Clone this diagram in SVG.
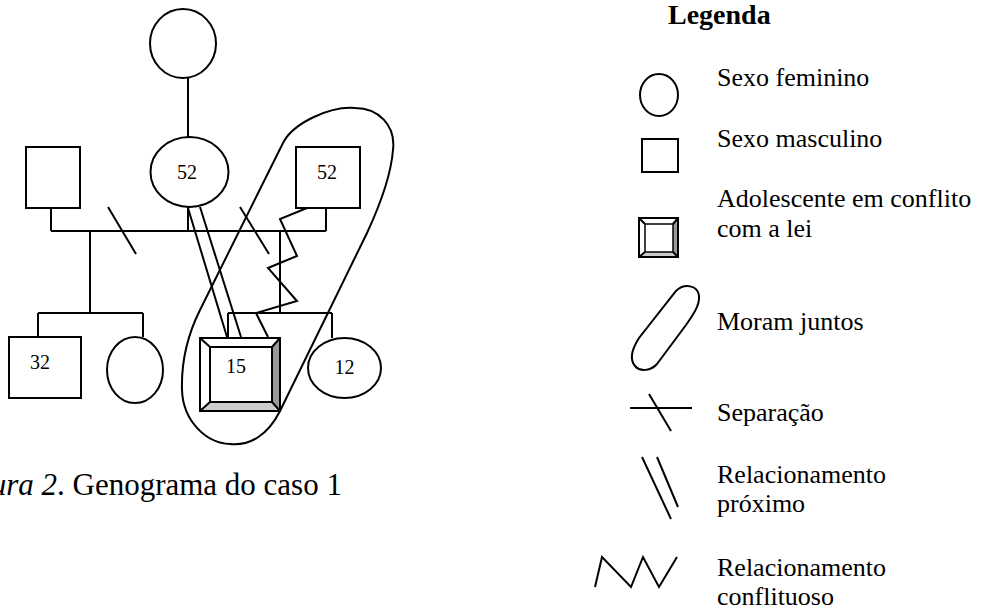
<svg xmlns="http://www.w3.org/2000/svg" width="981" height="610" viewBox="0 0 981 610">
<style>
.s{fill:none;stroke:#000;stroke-width:2}
.n{fill:#fff;stroke:#000;stroke-width:2}
.t{font-family:"Liberation Serif","Times New Roman",serif;fill:#000}
.num{font-size:20px;text-anchor:middle}
.lg{font-size:26px}
</style>
<rect width="981" height="610" fill="#fff"/>
<g id="connectors">
<line class="s" x1="188" y1="78" x2="188" y2="137"/>
<line class="s" x1="51" y1="208" x2="51" y2="231"/>
<line class="s" x1="326" y1="208" x2="326" y2="231"/>
<line class="s" x1="188" y1="207" x2="188" y2="231"/>
<line class="s" x1="51" y1="231" x2="326" y2="231"/>
<line class="s" x1="108" y1="207" x2="136" y2="254"/>
<line class="s" x1="240" y1="207" x2="269" y2="254"/>
<line class="s" x1="90" y1="231" x2="90" y2="313"/>
<line class="s" x1="38" y1="313" x2="143" y2="313"/>
<line class="s" x1="38" y1="313" x2="38" y2="337"/>
<line class="s" x1="143" y1="313" x2="143" y2="337"/>
<line class="s" x1="280" y1="231" x2="280" y2="313"/>
<line class="s" x1="228" y1="313" x2="332" y2="313"/>
<line class="s" x1="228" y1="313" x2="228" y2="338"/>
<line class="s" x1="332" y1="313" x2="332" y2="338"/>
<line class="s" x1="188" y1="208" x2="227" y2="337"/>
<line class="s" x1="200" y1="207" x2="241" y2="337"/>
<polyline class="s" points="307,208 280,219 297,256 268,268 297,301 256,313 268,337"/>
</g>
<g id="n-grandmother"><ellipse class="n" cx="183" cy="43.5" rx="33" ry="34.5"/></g>
<g id="n-mother"><ellipse class="n" cx="189.5" cy="172" rx="39" ry="35"/><text class="t num" x="187" y="179">52</text></g>
<g id="n-father1"><rect class="n" x="26" y="147" width="54" height="61"/></g>
<g id="n-father2"><rect class="n" x="296" y="147" width="64" height="61"/><text class="t num" x="327" y="179">52</text></g>
<g id="n-son32"><rect class="n" x="9" y="337" width="72" height="61"/><text class="t num" x="40" y="369">32</text></g>
<g id="n-daughter"><ellipse class="n" cx="135" cy="370" rx="28" ry="33"/></g>
<g id="n-adolescent">
<rect x="200" y="338" width="80" height="73" fill="#fff"/>
<polygon points="272,347 280,338 280,411 272,402" fill="#999"/>
<polygon points="210,402 272,402 280,411 200,411" fill="#ccc"/>
<rect x="200" y="338" width="80" height="73" fill="none" stroke="#000" stroke-width="2"/>
<rect x="210" y="347" width="62" height="55" fill="none" stroke="#000" stroke-width="2"/>
<line class="s" x1="200" y1="338" x2="210" y2="347"/>
<line class="s" x1="280" y1="338" x2="272" y2="347"/>
<line class="s" x1="200" y1="411" x2="210" y2="402"/>
<line class="s" x1="280" y1="411" x2="272" y2="402"/>
<text class="t num" x="236" y="373">15</text>
</g>
<g id="n-daughter12"><ellipse class="n" cx="344.5" cy="368" rx="36.5" ry="30"/><text class="t num" x="344.5" y="374">12</text></g>
<g id="household"><path class="s" d="M283,143 C293,123 330,106 355,108 C378,108 396,125 393,150 C391,175 380,205 367,233 L280,411 C268,435 250,446 230,444 C205,443 183,420 182,390 C181,355 190,330 200,310 Z"/></g>
<text class="t" font-size="31" y="495"><tspan x="57" text-anchor="end" font-style="italic">Figura 2</tspan></text>
<text class="t" font-size="31" x="57" y="495">. Genograma do caso 1</text>
<g id="legend">
<text class="t" font-size="28" font-weight="bold" x="668" y="24">Legenda</text>
<ellipse class="n" cx="659" cy="95" rx="19" ry="21"/>
<text class="t lg" x="717" y="86">Sexo feminino</text>
<rect class="n" x="642" y="139" width="36" height="33"/>
<text class="t lg" x="717" y="147">Sexo masculino</text>
<rect x="639" y="218" width="39" height="39" fill="#fff"/>
<polygon points="673,224 678,218 678,257 673,252" fill="#999"/>
<polygon points="645,252 673,252 678,257 639,257" fill="#ccc"/>
<rect x="639" y="218" width="39" height="39" fill="none" stroke="#000" stroke-width="2"/>
<rect x="645" y="224" width="28" height="28" fill="none" stroke="#000" stroke-width="1.5"/>
<line class="s" stroke-width="1" x1="639" y1="218" x2="645" y2="224"/>
<line class="s" stroke-width="1" x1="678" y1="218" x2="673" y2="224"/>
<line class="s" stroke-width="1" x1="639" y1="257" x2="645" y2="252"/>
<line class="s" stroke-width="1" x1="678" y1="257" x2="673" y2="252"/>
<text class="t lg" x="717" y="207">Adolescente em conflito</text>
<text class="t lg" x="717" y="237">com a lei</text>
<path class="s" d="M676,291 C684,283 698,285 699,296 C700,305 693,315 686,325 L657,364 C651,371 640,372 635,366 C629,359 632,349 639,338 Z"/>
<text class="t lg" x="717" y="330">Moram juntos</text>
<line class="s" x1="630" y1="408" x2="692" y2="408"/>
<line class="s" x1="649" y1="394" x2="671" y2="431"/>
<text class="t lg" x="717" y="421">Separação</text>
<line class="s" x1="642" y1="457" x2="671" y2="519"/>
<line class="s" x1="657" y1="457" x2="678" y2="507"/>
<text class="t lg" x="717" y="483">Relacionamento</text>
<text class="t lg" x="717" y="512">próximo</text>
<polyline class="s" points="595,587 602,557 631,587 643,557 659,587 677,557"/>
<text class="t lg" x="717" y="576">Relacionamento</text>
<text class="t lg" x="717" y="605">conflituoso</text>
</g>
</svg>
